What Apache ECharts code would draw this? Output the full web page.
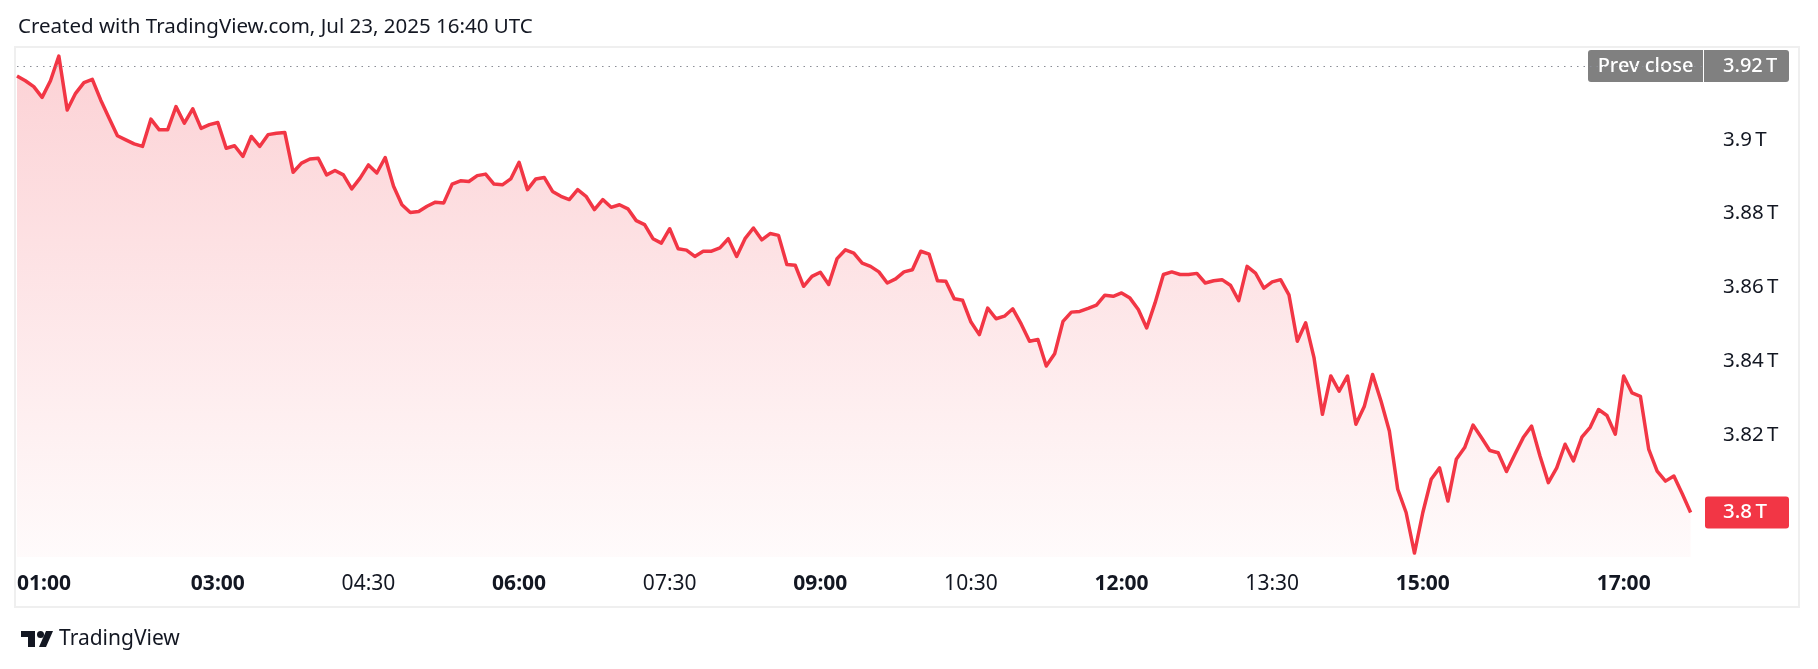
<!DOCTYPE html>
<html>
<head>
<meta charset="utf-8">
<script src="https://cdn.jsdelivr.net/npm/echarts@6/dist/echarts.min.js"></script>
<style>
html,body{margin:0;padding:0;background:#ffffff;}
#chart{width:1818px;height:669px;}
</style>
</head>
<body>
<div id="chart"></div>
<script>
// ---- data ----
const START_TIME = '01:00';
const STEP_MINUTES = 5;
const values = [
  3.9173, 3.9160, 3.9144, 3.9115, 3.9160, 3.9227, 3.9081, 3.9126, 3.9155, 3.9164,
  3.9108, 3.9059, 3.9011, 3.9000, 3.8989, 3.8982, 3.9056, 3.9027, 3.9027, 3.9090,
  3.9045, 3.9084, 3.9031, 3.9041, 3.9047, 3.8977, 3.8984, 3.8955, 3.9009, 3.8982,
  3.9014, 3.9018, 3.9020, 3.8912, 3.8937, 3.8948, 3.8950, 3.8905, 3.8917, 3.8905,
  3.8867,
  3.8896, 3.8932, 3.8910, 3.8952, 3.8874, 3.8824, 3.8803, 3.8806, 3.8820, 3.8831,
  3.8829, 3.8880, 3.8889, 3.8887, 3.8903, 3.8907, 3.8880, 3.8878, 3.8894, 3.8939,
  3.8865, 3.8894, 3.8898, 3.8860, 3.8847, 3.8838, 3.8865, 3.8847, 3.8811, 3.8838,
  3.8817, 3.8824, 3.8813, 3.8781, 3.8770, 3.8732, 3.8720, 3.8759, 3.8705, 3.8701,
  3.8684,
  3.8698, 3.8698, 3.8707, 3.8732, 3.8684, 3.8732, 3.8761, 3.8729, 3.8746, 3.8741,
  3.8662, 3.8660, 3.8603, 3.8630, 3.8641, 3.8608, 3.8678, 3.8702, 3.8693, 3.8666,
  3.8657, 3.8642, 3.8612, 3.8623, 3.8642, 3.8648, 3.8698, 3.8690, 3.8618, 3.8617,
  3.8569, 3.8565, 3.8506, 3.8472, 3.8544, 3.8515, 3.8522, 3.8542, 3.8501, 3.8454,
  3.8459, 3.8387, 3.8420, 3.8508, 3.8533, 3.8535, 3.8543, 3.8552, 3.8579, 3.8576,
  3.8585, 3.8571, 3.8540, 3.8490, 3.8558, 3.8635, 3.8642, 3.8635, 3.8635, 3.8638,
  3.8612, 3.8618, 3.8621, 3.8606, 3.8564, 3.8657, 3.8639, 3.8598, 3.8615, 3.8621,
  3.8580, 3.8454, 3.8504, 3.8409, 3.8256, 3.8360, 3.8319, 3.8360, 3.8229, 3.8277,
  3.8364,
  3.8292, 3.8211, 3.8053, 3.7990, 3.7880, 3.7990, 3.8080, 3.8111, 3.8021, 3.8134,
  3.8166, 3.8227, 3.8193, 3.8158, 3.8152, 3.8101, 3.8148, 3.8193, 3.8224, 3.8143,
  3.8071, 3.8111, 3.8175, 3.8130, 3.8194, 3.8221, 3.8269, 3.8253, 3.8202, 3.8360,
  3.8314, 3.8305, 3.8161, 3.8102, 3.8075, 3.8089, 3.8041, 3.7990
];
const timeTicks = ['01:00','03:00','04:30','06:00','07:30','09:00','10:30','12:00','13:30','15:00','17:00'];
const boldTicks = ['01:00','03:00','06:00','09:00','12:00','15:00','17:00'];
const priceTicks = [3.82, 3.84, 3.86, 3.88, 3.9];
const prevClose = 3.92;
const UNIT = 'T';
const headerText = 'Created with TradingView.com, Jul 23, 2025 16:40 UTC';
const brandText = 'TradingView';

// ---- helpers ----
function toMin(s){ const p = s.split(':'); return (+p[0])*60 + (+p[1]); }
function toHHMM(m){ const h = Math.floor(m/60), mm = Math.round(m - h*60); return String(h).padStart(2,'0') + ':' + String(mm).padStart(2,'0'); }
function fmtPrice(v){ return String(parseFloat((+v).toFixed(2))) + '\u202F' + UNIT; }

const startMin = toMin(START_TIME);
const seriesData = values.map((v, i) => [startMin + i*STEP_MINUTES, v]);
const lastValue = values[values.length - 1];

const FONT = '"Noto Sans", "DejaVu Sans", sans-serif';
const TEXT = '#131722';
const RED = '#F23645';

const chart = echarts.init(document.getElementById('chart'), null, {renderer:'canvas'});

const option = {
  animation: false,
  backgroundColor: '#ffffff',
  textStyle: { fontFamily: FONT },
  grid: { left: 17, right: 114, top: 48, bottom: 112, containLabel: false },
  xAxis: {
    type: 'value',
    min: startMin,
    max: 1068,
    axisLine: { show: false },
    axisTick: { show: false },
    splitLine: { show: false },
    axisLabel: {
      customValues: timeTicks.map(toMin),
      alignMinLabel: 'left',
      margin: 17,
      fontFamily: FONT,
      fontSize: 21,
      color: TEXT,
      formatter: function(v){
        const s = toHHMM(v);
        return boldTicks.indexOf(s) >= 0 ? '{b|' + s + '}' : '{n|' + s + '}';
      },
      rich: {
        b: { fontFamily: FONT, fontSize: 21, fontWeight: 'bold', color: TEXT },
        n: { fontFamily: FONT, fontSize: 21, fontWeight: 'normal', color: TEXT }
      }
    }
  },
  yAxis: {
    type: 'value',
    position: 'right',
    min: 3.78694,
    max: 3.92488,
    axisLine: { show: false },
    axisTick: { show: false },
    splitLine: { show: false },
    axisLabel: {
      customValues: priceTicks,
      margin: 19,
      fontFamily: FONT,
      fontSize: 20.5,
      color: TEXT,
      formatter: function(v){ return fmtPrice(v); }
    }
  },
  series: [{
    type: 'line',
    data: seriesData,
    showSymbol: false,
    symbol: 'none',
    smooth: false,
    clip: true,
    lineStyle: { color: RED, width: 3.5, join: 'round' },
    areaStyle: {
      origin: 'start',
      color: new echarts.graphic.LinearGradient(0, 0, 0, 1, [
        { offset: 0, color: 'rgba(242,54,69,0.32)' },
        { offset: 1, color: 'rgba(242,54,69,0.03)' }
      ])
    },
    markLine: {
      silent: true,
      symbol: ['none','none'],
      animation: false,
      label: { show: false },
      data: [{ yAxis: prevClose, lineStyle: { color: '#8a8d96', type: [1.5, 5], width: 1 } }]
    },
    z: 3
  }]
};
chart.setOption(option);

// badges positioned through the library's scales
const gridRect = chart.getModel().getComponent('grid').coordinateSystem.getRect();
const axX = gridRect.x + gridRect.width;
const yPrev = chart.convertToPixel({ yAxisIndex: 0 }, prevClose);
const yLast = chart.convertToPixel({ yAxisIndex: 0 }, lastValue);

chart.setOption({
  graphic: [
    // chart frame
    { type: 'rect', z: 0, silent: true, shape: { x: 15, y: 47, width: 1784, height: 560 },
      style: { fill: 'none', stroke: '#efefef', lineWidth: 2 } },
    // header
    { type: 'text', left: 18, top: 17, z: 10,
      style: { text: headerText, fontFamily: FONT, fontSize: 20.5, fill: TEXT } },
    // prev close badge
    { type: 'group', x: axX - 116, y: yPrev - 16, z: 20, children: [
      { type: 'rect', shape: { x: 0, y: 0, width: 115, height: 32, r: [3,0,0,3] }, style: { fill: '#808080' } },
      { type: 'rect', shape: { x: 116, y: 0, width: 85, height: 32, r: [0,3,3,0] }, style: { fill: '#808080' } },
      { type: 'text', x: 57.5, y: 16, style: { text: 'Prev close', fontFamily: FONT, fontSize: 20, fontWeight: 500, fill: '#ffffff', align: 'center', verticalAlign: 'middle' } },
      { type: 'text', x: 135, y: 16, style: { text: fmtPrice(prevClose), fontFamily: FONT, fontSize: 20, fontWeight: 500, fill: '#ffffff', align: 'left', verticalAlign: 'middle' } }
    ]},
    // last value badge
    { type: 'group', x: axX + 1, y: yLast - 16, z: 20, children: [
      { type: 'rect', shape: { x: 0, y: 0, width: 84, height: 32, r: 3 }, style: { fill: RED } },
      { type: 'text', x: 18, y: 16, style: { text: fmtPrice(lastValue), fontFamily: FONT, fontSize: 20.5, fontWeight: 500, fill: '#ffffff', align: 'left', verticalAlign: 'middle' } }
    ]},
    // TradingView logo + name
    { type: 'group', x: 21, y: 631, z: 10, children: [
      { type: 'rect', shape: { x: 0, y: 0, width: 14, height: 6 }, style: { fill: TEXT } },
      { type: 'rect', shape: { x: 7, y: 0, width: 7, height: 16 }, style: { fill: TEXT } },
      { type: 'circle', shape: { cx: 19.5, cy: 3.5, r: 3.5 }, style: { fill: TEXT } },
      { type: 'polygon', shape: { points: [[25,0],[32,0],[25,16],[18,16]] }, style: { fill: TEXT } },
      { type: 'text', x: 38, y: 8, style: { text: brandText, fontFamily: FONT, fontSize: 21, fill: TEXT, verticalAlign: 'middle' } }
    ]}
  ]
});
</script>
</body>
</html>
